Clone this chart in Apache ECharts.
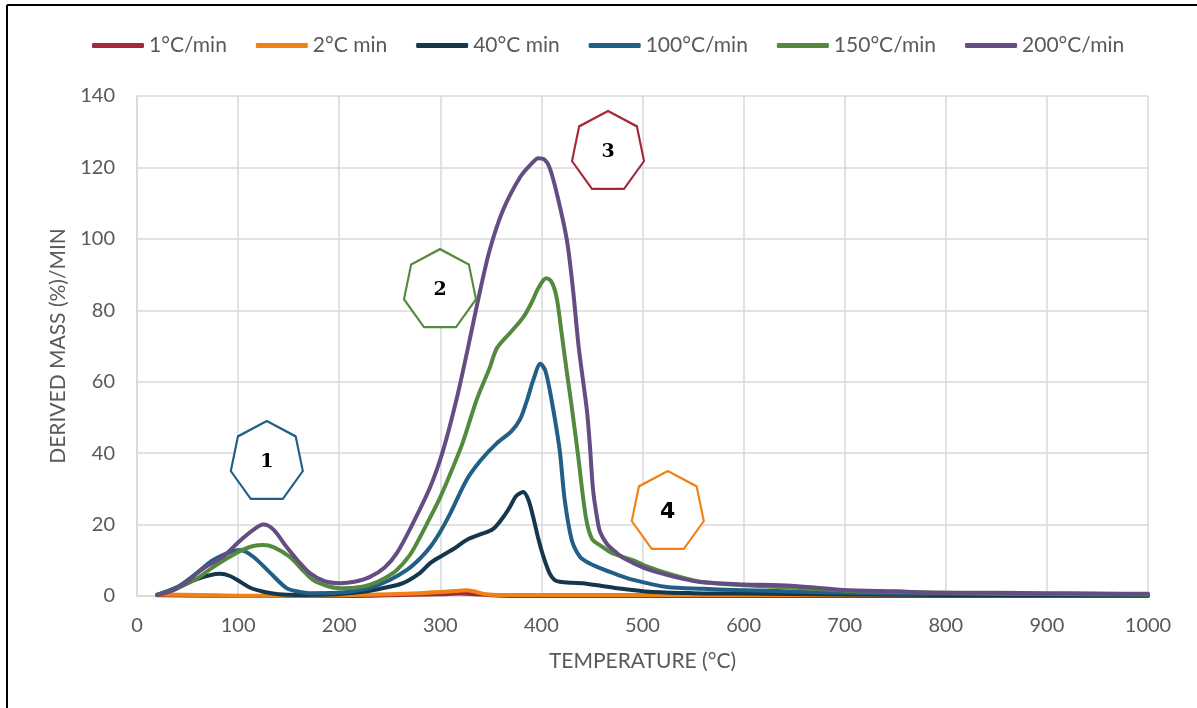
<!DOCTYPE html>
<html>
<head>
<meta charset="utf-8">
<script src="https://cdn.jsdelivr.net/npm/echarts@6/dist/echarts.min.js"></script>
<style>
html,body{margin:0;padding:0;background:#fff;}
#chart{width:1197px;height:708px;}
</style>
</head>
<body>
<div id="chart"></div>
<script>
// ---------- DATA ----------
const seriesNames = ['1°C/min', '2°C min', '40°C min', '100°C/min', '150°C/min', '200°C/min'];

const t1 = [20, 100, 200, 250, 300, 320, 340, 360, 400, 500, 700, 1000];
const v1 = [0.2, 0, 0, 0.2, 0.5, 0.7, 0.4, 0.1, 0, 0, 0, 0];

const t2 = [20, 60, 100, 150, 200, 250, 280, 300, 315, 325, 335, 345, 360, 400, 500, 600, 700, 800, 900, 1000];
const v2 = [0.4, 0.3, 0.1, 0.1, 0.2, 0.5, 0.8, 1.1, 1.4, 1.6, 1.2, 0.5, 0.3, 0.3, 0.3, 0.3, 0.3, 0.3, 0.3, 0.3];

const t40 = [20, 45, 60, 72, 82, 92, 102, 112, 125, 140, 158, 190, 224, 245, 263, 280, 290, 300, 315, 326, 340, 352, 362, 369, 375, 382, 387, 392, 397, 402, 408, 413, 418, 430, 441, 460, 475, 507, 550, 590, 700, 800, 900, 1000];
const v40 = [0.3, 3, 4.8, 5.8, 6.2, 5.6, 4, 2.3, 1.2, 0.5, 0.3, 0.4, 1.2, 2.3, 3.6, 6.5, 9.2, 11, 13.5, 15.7, 17.3, 18.7, 22, 25, 28, 29.1, 27, 22, 16, 11, 6.4, 4.5, 4, 3.7, 3.6, 2.8, 2.2, 1.2, 0.8, 0.7, 0.4, 0.3, 0.3, 0.2];

const t100 = [20, 40, 59, 75, 92, 102, 115, 132, 148, 160, 171, 198, 215, 230, 250, 267, 280, 290, 300, 310, 326, 340, 356, 370, 379, 386, 392, 399, 404, 410, 418, 423, 430, 438, 445, 458, 475, 491, 524, 560, 590, 656, 700, 800, 900, 1000];
const v100 = [0.3, 2.5, 6.4, 10, 12.3, 12.9, 11, 6.4, 2.2, 1.2, 0.8, 0.9, 1.4, 2.2, 4.5, 7.3, 10.5, 13.7, 18, 23.2, 32.5, 38, 42.8, 46, 49.5, 55, 60.5, 65, 63, 55, 41, 27, 15.7, 11, 9.5, 7.8, 6, 4.5, 2.5, 2, 1.7, 1.2, 0.9, 0.6, 0.5, 0.4];

const t150 = [20, 36, 50, 60, 75, 90, 105, 115, 125, 135, 151, 163, 174, 188, 201, 215, 230, 245, 257, 270, 280, 290, 300, 311, 322, 336, 349, 356, 370, 382, 390, 396, 402, 405, 410, 415, 420, 425, 430, 436, 444, 450, 458, 470, 491, 505, 524, 557, 600, 656, 700, 750, 800, 850, 900, 950, 1000];
const v150 = [0.3, 1.7, 3.5, 5, 8, 10.7, 13, 14, 14.3, 13.7, 11, 7.5, 4.5, 2.8, 2.2, 2.3, 3.1, 5, 7.3, 11.5, 16.5, 22, 27.7, 35, 42.8, 55, 64, 69.4, 74, 78, 82, 85.7, 88.5, 89, 88, 83.7, 73.6, 63, 53, 40, 22, 16, 14.2, 12, 10, 8.2, 6.4, 4, 3, 2.2, 1.5, 1.2, 0.9, 0.7, 0.6, 0.5, 0.4];

const t200 = [20, 30, 40, 50, 60, 70, 85, 100, 115, 125, 135, 148, 160, 171, 185, 201, 215, 230, 245, 257, 273, 290, 303, 316, 327, 339, 349, 362, 379, 390, 397, 403, 408, 415, 425, 431, 437, 445, 448, 451, 455, 458, 465, 471, 480, 491, 505, 524, 540, 557, 580, 600, 636, 670, 698, 750, 801, 850, 900, 950, 1000];
const v200 = [0.3, 1, 2.2, 4, 6.5, 8.5, 11, 15, 18.5, 20, 18.6, 13.7, 9.6, 6.4, 4.2, 3.6, 4, 5.3, 8, 12, 20.4, 30.5, 41, 55, 69, 85, 97, 108, 117.3, 121, 122.6, 122.2, 120, 113, 100, 86.5, 69.4, 52, 42, 30, 22, 18, 14.5, 12.9, 10.8, 9.2, 7.5, 5.9, 4.8, 3.9, 3.5, 3.2, 3, 2.4, 1.7, 1.3, 0.9, 0.9, 0.8, 0.7, 0.6];

const xTicks = [0, 100, 200, 300, 400, 500, 600, 700, 800, 900, 1000];
const yTicks = [0, 20, 40, 60, 80, 100, 120, 140];

// annotation heptagons (peak labels)
const annoLabels = ['1', '2', '3', '4'];
const annoT = [128.4, 299.7, 465.9, 525];
const annoV = [38.1, 86.2, 124.9, 24.1];

// ---------- STYLE ----------
const colors = ['#A5283A', '#F08215', '#15374D', '#215F86', '#548A3E', '#634D83'];
const annoColors = ['#215F86', '#548A3E', '#A5283A', '#F08215'];
const annoRich = ['s', 's', 's', 'n'];
const txt = '#595959';
const grid = '#d9d9d9';
const FONT = 'Lato';

function zip(t, v) { return t.map((x, i) => [x, v[i]]); }
const allT = [t1, t2, t40, t100, t150, t200];
const allV = [v1, v2, v40, v100, v150, v200];

// heptagon path (point up, flat bottom)
let hp = '';
for (let i = 0; i < 7; i++) {
  const a = (-90 + i * 360 / 7) * Math.PI / 180;
  const x = (100 + 100 * Math.cos(a)).toFixed(2);
  const y = (100 + 100 * Math.sin(a)).toFixed(2);
  hp += (i === 0 ? 'M' : 'L') + x + ' ' + y + ' ';
}
hp += 'Z';

const lineSeries = seriesNames.map((name, i) => ({
  name: name,
  type: 'line',
  data: zip(allT[i], allV[i]),
  showSymbol: false,
  smooth: 0.3,
  lineStyle: {color: colors[i], width: 4, cap: 'round', join: 'round'},
  itemStyle: {color: colors[i]},
  emphasis: {disabled: true},
  z: 2 + i
}));

const annoSeries = {
  name: 'annotations',
  type: 'scatter',
  symbol: 'path://' + hp,
  symbolSize: [72, 78],
  symbolKeepAspect: false,
  z: 20,
  silent: true,
  label: {
    show: true,
    position: 'inside',
    offset: [0, 2],
    formatter: p => '{' + annoRich[p.dataIndex] + '|' + annoLabels[p.dataIndex] + '}',
    rich: {
      s: {fontFamily: 'DejaVu Serif', fontWeight: 'bold', fontSize: 19, color: '#000'},
      n: {fontFamily: 'DejaVu Sans', fontWeight: 'bold', fontSize: 22, color: '#000'}
    }
  },
  data: annoLabels.map((lab, i) => ({
    value: [annoT[i], annoV[i]],
    itemStyle: {color: '#ffffff', borderColor: annoColors[i], borderWidth: 2.2, opacity: 1}
  }))
};

const chart = echarts.init(document.getElementById('chart'), null, {renderer: 'canvas'});
chart.setOption({
  animation: false,
  backgroundColor: '#ffffff',
  color: colors,
  legend: {
    data: seriesNames.map((n, i) => ({name: n, itemStyle: {color: colors[i]}})),
    top: 30,
    left: 87,
    itemWidth: 52,
    itemHeight: 5,
    itemGap: 29,
    icon: 'roundRect',
    textStyle: {color: txt, fontSize: 21, fontFamily: FONT}
  },
  grid: {left: 137, right: 49, top: 96, bottom: 112, containLabel: false},
  xAxis: {
    type: 'value',
    min: xTicks[0],
    max: xTicks[xTicks.length - 1],
    interval: 100,
    name: 'TEMPERATURE (°C)',
    nameLocation: 'middle',
    nameGap: 55,
    nameTextStyle: {color: txt, fontSize: 21, fontFamily: FONT},
    axisLine: {show: true, lineStyle: {color: grid, width: 1.5}},
    axisTick: {show: false},
    axisLabel: {color: txt, fontSize: 20, fontFamily: FONT, margin: 20, formatter: v => String(v)},
    splitLine: {show: true, lineStyle: {color: grid, width: 1.5}}
  },
  yAxis: {
    type: 'value',
    min: yTicks[0],
    max: yTicks[yTicks.length - 1],
    interval: 20,
    name: 'DERIVED MASS (%)/MIN',
    nameLocation: 'middle',
    nameGap: 68,
    nameTextStyle: {color: txt, fontSize: 21, fontFamily: FONT},
    axisLine: {show: true, lineStyle: {color: grid, width: 1.5}},
    axisTick: {show: false},
    axisLabel: {color: txt, fontSize: 20, fontFamily: FONT, margin: 22, formatter: v => String(v)},
    splitLine: {show: true, lineStyle: {color: grid, width: 1.5}}
  },
  graphic: [
    {type: 'line', shape: {x1: 7, y1: 5, x2: 1197, y2: 5}, style: {stroke: '#000', lineWidth: 2}, silent: true},
    {type: 'line', shape: {x1: 7, y1: 5, x2: 7, y2: 708}, style: {stroke: '#000', lineWidth: 2}, silent: true}
  ],
  series: lineSeries.concat([annoSeries])
});
</script>
</body>
</html>
